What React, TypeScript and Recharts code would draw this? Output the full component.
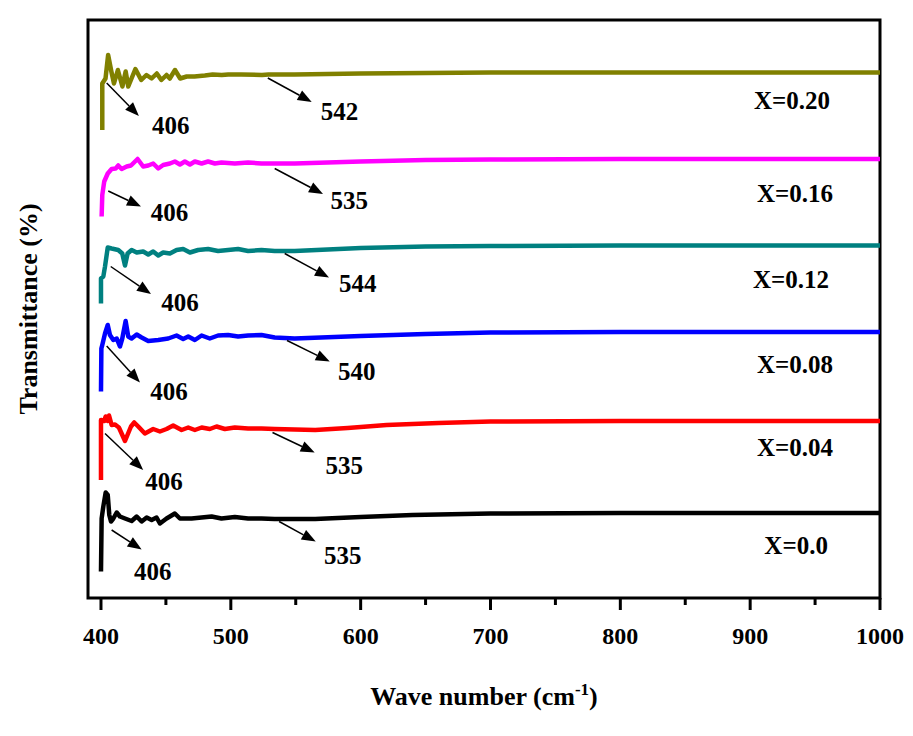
import { LineChart, Line, XAxis, YAxis, ReferenceArea, ReferenceLine, ReferenceDot } from 'recharts';

const FONT = "'Liberation Serif', 'Times New Roman', Times, serif";
const textStyle = { fontFamily: FONT, fontWeight: 700 };

// X = 0.0 (black)
const wave00 = [400, 400.5, 401.8, 403.6, 405.2, 406.4, 407.7, 409.5, 412.1, 414.6, 418.5, 423.6, 427.5, 431.3, 435.2, 439, 442.8, 445.4, 450.5, 453.1, 456.9, 460.8, 469.8, 477.5, 485.2, 492.8, 503.1, 513.3, 523.6, 533.8, 549.2, 565, 600, 640, 700, 800, 1000];
const trans00 = [5.3, 15.9, 18.3, 21.1, 20.6, 16.6, 15.3, 15.9, 17.1, 16.3, 15.9, 15.4, 16.3, 15.3, 16.1, 15.6, 16.1, 14.9, 15.9, 16.3, 16.9, 15.9, 15.9, 16.1, 16.3, 15.9, 16.2, 15.9, 15.9, 15.8, 15.8, 15.8, 16.2, 16.6, 16.9, 17, 17];

// X = 0.04 (red)
const wave04 = [400, 400, 402.5, 403.6, 405.2, 406.2, 408.2, 410.8, 413.8, 418.5, 423.1, 425.6, 428.7, 433.8, 440.2, 445.4, 450.5, 455.6, 462.1, 467.2, 472.3, 477.5, 483.8, 489, 495.4, 503.1, 513.3, 523.6, 533.8, 549.2, 565, 590, 620, 660, 700, 800, 1000];
const trans04 = [23.6, 35.6, 35.4, 36.3, 35.4, 36.5, 34.6, 34.7, 34.1, 31.4, 34.3, 35.1, 34.3, 32.9, 33.8, 33.3, 33.8, 34.5, 33.6, 34.1, 33.6, 34.1, 33.8, 34.3, 33.8, 34.1, 33.9, 33.9, 33.8, 33.7, 33.6, 34, 34.6, 35, 35.3, 35.4, 35.4];

// X = 0.08 (blue)
const wave08 = [400, 400.3, 401, 403.1, 405.2, 406.9, 409.5, 412.1, 414.6, 416.4, 419, 421, 423.6, 427.5, 431.3, 436.4, 444.1, 451.8, 458.2, 463.3, 467.2, 472.3, 477.5, 483.8, 490.2, 497.9, 505.6, 513.3, 523.6, 533.8, 549.2, 600, 650, 700, 800, 1000];
const trans08 = [41.3, 49.9, 50.6, 52.9, 54.6, 52.6, 51.6, 51.9, 50.3, 51.9, 55.4, 52.3, 51.9, 52.7, 52.1, 51.4, 51.6, 51.9, 52.5, 51.8, 52.3, 51.6, 52.5, 51.9, 52.5, 52.6, 52.3, 52.5, 52.6, 52.1, 51.9, 52.4, 52.8, 53.1, 53.2, 53.2];

// X = 0.12 (teal)
const wave12 = [400, 400, 401.8, 403.1, 405.2, 408.2, 413.3, 416.4, 418.5, 420.5, 423.6, 427.5, 432.5, 436.4, 440.2, 444.1, 447.9, 453.1, 458.2, 463.3, 468.5, 474.8, 482.5, 490.2, 497.9, 505.6, 513.3, 523.6, 533.8, 549.2, 600, 650, 700, 800, 1000];
const trans12 = [58.9, 63.9, 64.3, 66.3, 70.1, 69.9, 69.6, 68.9, 66.5, 68.9, 69.6, 69.1, 69.3, 68.7, 69.3, 68.5, 69.1, 68.9, 69.6, 69.8, 69.1, 69.6, 69.8, 69.4, 69.6, 69.8, 69.4, 69.6, 69.4, 69.4, 70, 70.3, 70.4, 70.5, 70.5];

// X = 0.16 (magenta)
const wave16 = [400.5, 401, 402.5, 405.2, 408.2, 411.3, 413.3, 415.9, 419.8, 423.1, 428.2, 432.5, 436.4, 440.2, 444.1, 447.9, 453.1, 456.9, 460.8, 464.6, 468.5, 472.3, 477.5, 482.5, 487.7, 492.8, 503.1, 513.3, 523.6, 533.8, 549.2, 600, 650, 700, 800, 1000];
const trans16 = [76.3, 80.6, 83.3, 84.9, 85.8, 85.9, 86.5, 85.8, 86.3, 86.5, 87.8, 86.3, 86.5, 86.9, 85.9, 86.6, 86.9, 87.3, 86.7, 87.3, 86.7, 87.3, 86.9, 87.3, 86.9, 87.1, 86.9, 87.1, 86.9, 86.9, 86.9, 87.3, 87.6, 87.7, 87.8, 87.8];

// X = 0.20 (olive)
const wave20 = [401, 401, 403.5, 405.5, 408, 410, 413, 416.5, 419, 421, 426.5, 431, 435, 439, 443, 446.5, 450.5, 453, 457, 461, 466, 472, 480, 486, 493, 498, 508, 524, 529, 539, 549, 600, 700, 800, 900, 1000];
const trans20 = [93.6, 102.9, 103.9, 108.6, 105.3, 102.9, 105.6, 102.3, 105.3, 102.3, 105.8, 103.6, 104.6, 103.9, 104.9, 103.6, 104.6, 103.9, 105.6, 103.9, 104.3, 104.3, 104.5, 104.7, 104.6, 104.7, 104.7, 104.6, 104.7, 104.7, 104.7, 104.9, 105.1, 105.1, 105.1, 105.1];

const seriesNames = ['X=0.0', 'X=0.04', 'X=0.08', 'X=0.12', 'X=0.16', 'X=0.20'];
const seriesColors = ['#000000', '#ff0000', '#0000ff', '#008080', '#ff00ff', '#808000'];
const seriesWaves = [wave00, wave04, wave08, wave12, wave16, wave20];
const seriesTrans = [trans00, trans04, trans08, trans12, trans16, trans20];
const nameWave = [935.4, 934.6, 934.6, 931.5, 934.6, 932.3];
const nameTrans = [10.6, 30.2, 46.8, 63.8, 81, 99.6];

// peak arrows: start near the band, end at the number
const peakText = ['406', '535', '406', '535', '406', '540', '406', '544', '406', '535', '406', '542'];
const arrowFromW = [408.2, 537.2, 403.1, 532.1, 404.4, 543.3, 407.5, 541.5, 405.6, 533.8, 404.4, 528.5];
const arrowFromT = [13.6, 15.3, 32.9, 33.1, 50.4, 51.5, 66.3, 68.9, 81.4, 85.9, 103, 104];
const arrowToW = [431.3, 565.4, 432.5, 564.6, 430, 576.2, 438.5, 575.6, 430.8, 571, 429.2, 562.3];
const arrowToT = [9.7, 11.3, 25.6, 29.1, 43.1, 47.3, 60.8, 64.1, 78.3, 80.8, 96.4, 99.2];
const textW = [439.8, 586.2, 448.5, 587.3, 452.3, 596.9, 460.8, 597.7, 452.7, 591.2, 453.8, 583.8];
const textT = [5.3, 8.6, 23.3, 26.5, 41.3, 45.3, 59.1, 62.9, 77.2, 79.6, 94.6, 97.4];

const waveTicks = [400, 450, 500, 550, 600, 650, 700, 750, 800, 850, 900, 950, 1000];

function WaveTick(props: any) {
  const { x, y, payload } = props;
  const major = payload.value % 100 === 0;
  return (
    <g>
      <line x1={x} x2={x} y1={y} y2={y + (major ? 12 : 7)} stroke="#000" strokeWidth={3} />
      {major && (
        <text x={x} y={y + 46} textAnchor="middle" style={textStyle} fontSize={24} fill="#000">
          {payload.value}
        </text>
      )}
    </g>
  );
}

function Arrow(props: any) {
  const { x1, y1, x2, y2 } = props;
  const dx = x2 - x1;
  const dy = y2 - y1;
  const len = Math.sqrt(dx * dx + dy * dy) || 1;
  const ux = dx / len;
  const uy = dy / len;
  const head = 14;
  const half = 5.5;
  const bx = x2 - ux * head;
  const by = y2 - uy * head;
  return (
    <g>
      <line x1={x1} y1={y1} x2={bx} y2={by} stroke="#000" strokeWidth={1.5} />
      <polygon
        points={`${x2},${y2} ${bx - uy * half},${by + ux * half} ${bx + uy * half},${by - ux * half}`}
        fill="#000"
      />
    </g>
  );
}

const textShape = (label: string) => (p: any) => (
  <text x={p.cx} y={p.cy} textAnchor="middle" dominantBaseline="central" style={textStyle} fontSize={25} fill="#000">
    {label}
  </text>
);

function XTitle(props: any) {
  const { viewBox } = props;
  const cx = viewBox.x + viewBox.width / 2;
  const y = viewBox.y + 107;
  return (
    <text x={cx} y={y} textAnchor="middle" style={textStyle} fontSize={26} fill="#000">
      Wave number (cm
      <tspan dy={-10} fontSize={17}>-1</tspan>
      <tspan dy={10}>)</tspan>
    </text>
  );
}

function YTitle(props: any) {
  const { viewBox } = props;
  const x = viewBox.x + viewBox.width - 51;
  const y = viewBox.y + viewBox.height / 2;
  return (
    <text x={x} y={y} transform={`rotate(-90 ${x} ${y})`} textAnchor="middle" style={textStyle} fontSize={26} fill="#000">
      Transmittance (%)
    </text>
  );
}

export default function App() {
  const series = seriesNames.map((name, i) => ({
    name,
    color: seriesColors[i],
    data: seriesWaves[i].map((w, j) => ({ w, t: seriesTrans[i][j] })),
  }));

  return (
    <div style={{ background: '#fff', width: 905, height: 720 }}>
      <LineChart width={905} height={720} margin={{ top: 12, right: 33, left: 79, bottom: 30 }}>
        <XAxis
          dataKey="w"
          type="number"
          domain={[390, 1000]}
          allowDataOverflow
          ticks={waveTicks}
          interval={0}
          axisLine={false}
          tickLine={false}
          tickSize={0}
          tickMargin={0}
          height={100}
          tick={<WaveTick />}
          label={{ content: <XTitle /> }}
        />
        <YAxis
          type="number"
          domain={[0, 115.6]}
          allowDataOverflow
          width={1}
          tick={false}
          axisLine={false}
          tickLine={false}
          label={{ content: <YTitle /> }}
        />
        {series.map((s) => (
          <Line
            key={s.name}
            data={s.data}
            dataKey="t"
            type="linear"
            stroke={s.color}
            strokeWidth={4.5}
            strokeLinejoin="round"
            dot={false}
            activeDot={false}
            isAnimationActive={false}
          />
        ))}
        <ReferenceArea x1={390} x2={1000} y1={0} y2={115.6} fill="none" stroke="#000" strokeWidth={3} fillOpacity={0} />
        {peakText.map((_, i) => (
          <ReferenceLine
            key={`arrow-${i}`}
            segment={[
              { x: arrowFromW[i], y: arrowFromT[i] },
              { x: arrowToW[i], y: arrowToT[i] },
            ]}
            shape={<Arrow />}
          />
        ))}
        {peakText.map((txt, i) => (
          <ReferenceDot key={`peak-${i}`} x={textW[i]} y={textT[i]} r={0} shape={textShape(txt)} />
        ))}
        {seriesNames.map((name, i) => (
          <ReferenceDot key={`name-${i}`} x={nameWave[i]} y={nameTrans[i]} r={0} shape={textShape(name)} />
        ))}
      </LineChart>
    </div>
  );
}
